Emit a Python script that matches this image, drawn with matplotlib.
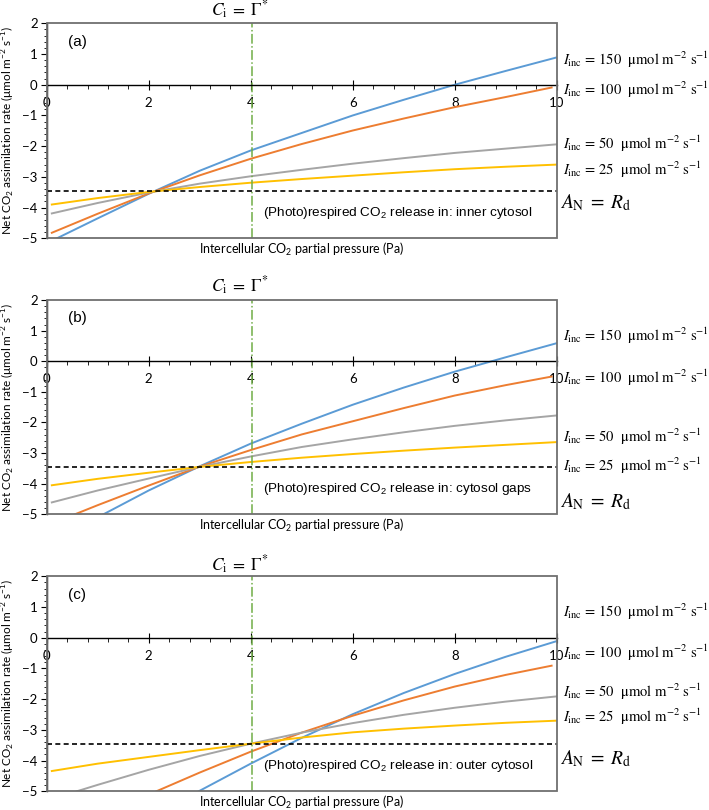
import matplotlib
matplotlib.use("Agg")
import matplotlib.pyplot as plt
from matplotlib.patches import Rectangle
from matplotlib.ticker import MultipleLocator

plt.rcParams['font.family'] = ['Lato', 'DejaVu Sans']

# light levels and colours (blue, orange, grey, yellow)
light_levels = [150, 100, 50, 25]
colors = ['#5B9BD5', '#ED7D31', '#A5A5A5', '#FFC000']
panel_tags = ['(a)', '(b)', '(c)']
release_sites = ['inner cytosol', 'cytosol gaps', 'outer cytosol']

rd_level = -3.45      # A_N = R_d
gamma_star = 4.03     # C_i = Gamma*

# ---- panel (a): inner cytosol ----
x_blue_a = [0.2, 1, 2, 3, 4, 5, 6, 7, 8, 9, 10]
y_blue_a = [-5.0, -4.35, -3.55, -2.8, -2.14, -1.57, -1.0, -0.49, 0.0, 0.45, 0.89]
x_orange_a = [0.1, 1, 2, 3, 4, 5, 6, 7, 8, 9, 9.9]
y_orange_a = [-4.82, -4.2, -3.54, -2.95, -2.41, -1.93, -1.49, -1.1, -0.73, -0.4, -0.09]
x_grey_a = [0.1, 1, 2, 3, 4, 5, 6, 7, 8, 9, 10]
y_grey_a = [-4.19, -3.85, -3.51, -3.22, -2.98, -2.77, -2.57, -2.39, -2.22, -2.08, -1.94]
x_yellow_a = [0.1, 1, 2, 3, 4, 5, 6, 7, 8, 9, 10]
y_yellow_a = [-3.90, -3.69, -3.49, -3.33, -3.19, -3.07, -2.96, -2.85, -2.75, -2.67, -2.60]

# ---- panel (b): cytosol gaps ----
x_blue_b = [1.11, 2, 3, 4, 5, 6, 7, 8, 9, 10]
y_blue_b = [-5.0, -4.22, -3.43, -2.69, -2.04, -1.42, -0.86, -0.34, 0.13, 0.59]
x_orange_b = [0.55, 1, 2, 3, 4, 5, 6, 7, 8, 9, 9.9]
y_orange_b = [-5.0, -4.7, -4.06, -3.44, -2.9, -2.39, -1.96, -1.53, -1.12, -0.78, -0.50]
x_grey_b = [0.1, 1, 2, 3, 4, 5, 6, 7, 8, 9, 10]
y_grey_b = [-4.61, -4.22, -3.83, -3.45, -3.11, -2.80, -2.55, -2.32, -2.11, -1.93, -1.77]
x_yellow_b = [0.1, 1, 2, 3, 4, 5, 6, 7, 8, 9, 10]
y_yellow_b = [-4.05, -3.84, -3.64, -3.45, -3.29, -3.15, -3.03, -2.92, -2.82, -2.73, -2.64]

# ---- panel (c): outer cytosol ----
x_blue_c = [2.98, 4, 5, 6, 7, 8, 9, 10]
y_blue_c = [-5.0, -4.10, -3.26, -2.49, -1.80, -1.18, -0.62, -0.11]
x_orange_c = [2.15, 3, 4, 5, 6, 7, 8, 9, 9.9]
y_orange_c = [-5.0, -4.39, -3.71, -3.09, -2.54, -2.04, -1.59, -1.21, -0.91]
x_grey_c = [0.59, 1, 2, 3, 4, 5, 6, 7, 8, 9, 10]
y_grey_c = [-5.0, -4.79, -4.30, -3.85, -3.45, -3.09, -2.78, -2.51, -2.28, -2.08, -1.91]
x_yellow_c = [0.1, 1, 2, 3, 4, 5, 6, 7, 8, 9, 10]
y_yellow_c = [-4.34, -4.1, -3.88, -3.66, -3.45, -3.25, -3.08, -2.96, -2.86, -2.77, -2.70]

curves = [
    [(x_blue_a, y_blue_a), (x_orange_a, y_orange_a), (x_grey_a, y_grey_a), (x_yellow_a, y_yellow_a)],
    [(x_blue_b, y_blue_b), (x_orange_b, y_orange_b), (x_grey_b, y_grey_b), (x_yellow_b, y_yellow_b)],
    [(x_blue_c, y_blue_c), (x_orange_c, y_orange_c), (x_grey_c, y_grey_c), (x_yellow_c, y_yellow_c)],
]

# label heights (axes fraction) for the right-hand annotations: 150, 100, 50, 25, A_N=R_d
label_y = [
    [0.829, 0.690, 0.439, 0.318, 0.164],
    [0.832, 0.636, 0.360, 0.224, 0.061],
    [0.835, 0.642, 0.463, 0.347, 0.153],
]
title_y = [1.062, 1.066, 1.052]

fig = plt.figure(figsize=(7.09, 8.10), dpi=100)
bottoms = [0.7058, 0.365, 0.0231]
heights = [0.2654, 0.2646, 0.2654]

for p in range(3):
    ax = fig.add_axes([0.0659, bottoms[p], 0.7193, heights[p]])
    ax.set_xlim(0, 10)
    ax.set_ylim(-5, 2)

    ax.spines['top'].set_visible(False)
    ax.spines['right'].set_visible(False)
    ax.spines['bottom'].set_position(('data', 0))
    ax.spines['bottom'].set_linewidth(1.0)
    ax.spines['left'].set_linewidth(1.0)
    ax.add_patch(Rectangle((0, 0), 1, 1, transform=ax.transAxes, fill=False,
                           ec='#6f6f6f', lw=1.3, clip_on=False, zorder=5))

    ax.set_xticks([0, 2, 4, 6, 8, 10])
    ax.xaxis.set_minor_locator(MultipleLocator(0.4))
    ax.set_yticks(range(-5, 3))
    ax.yaxis.set_minor_locator(MultipleLocator(0.2))
    ax.tick_params(axis='x', which='major', direction='inout', length=7, pad=5, labelsize=9.5)
    ax.tick_params(axis='x', which='minor', direction='out', length=3)
    ax.tick_params(axis='y', which='major', direction='out', length=4.5, pad=2, labelsize=9.5)
    ax.tick_params(axis='y', which='minor', direction='out', length=2.5)

    for (xs, ys), c in zip(curves[p], colors):
        ax.plot(xs, ys, color=c, lw=1.4)

    ax.axhline(rd_level, color='black', ls=(0, (3, 2)), lw=1.2)
    ax.axvline(gamma_star, color='#70AD47', ls='-.', lw=1.1)

    ax.set_ylabel(r'Net CO$_\mathregular{2}$ assimilation rate (μmol m$^{\mathregular{-2}}$ s$^{\mathregular{-1}}$)',
                  fontsize=8.5)
    ax.yaxis.set_label_coords(-0.058, 0.5)

    ax.text(0.5, -0.054, r'Intercellular CO$_\mathregular{2}$ partial pressure (Pa)',
            transform=ax.transAxes, ha='center', va='center', fontsize=9)

    ax.text(0.042, 0.914, panel_tags[p], transform=ax.transAxes, va='center',
            family='Liberation Sans', fontsize=11)
    ax.text(0.425, 0.116, r'(Photo)respired CO$_\mathregular{2}$ release in: ' + release_sites[p],
            transform=ax.transAxes, va='center', family='Liberation Sans', fontsize=9.7)

    ax.text(3.79, title_y[p], r'$C_{\mathrm{i}}\;=\;\Gamma^{*}$', transform=ax.get_xaxis_transform(),
            ha='center', va='center', fontsize=12.5, math_fontfamily='stix')

    for i, lvl in enumerate(light_levels):
        ax.text(1.012, label_y[p][i], r'$I_{\mathrm{inc}}$ = ' + str(lvl) + '  μmol m$^{-2}$ s$^{-1}$',
                transform=ax.transAxes, va='center', family='STIXGeneral', fontsize=10.5,
                math_fontfamily='stix', clip_on=False)
    ax.text(1.006, label_y[p][4], r'$A_{\mathrm{N}}\;=\;R_{\mathrm{d}}$', transform=ax.transAxes,
            va='center', fontsize=14, math_fontfamily='stix', clip_on=False)

fig.savefig('out.png', dpi=100)
